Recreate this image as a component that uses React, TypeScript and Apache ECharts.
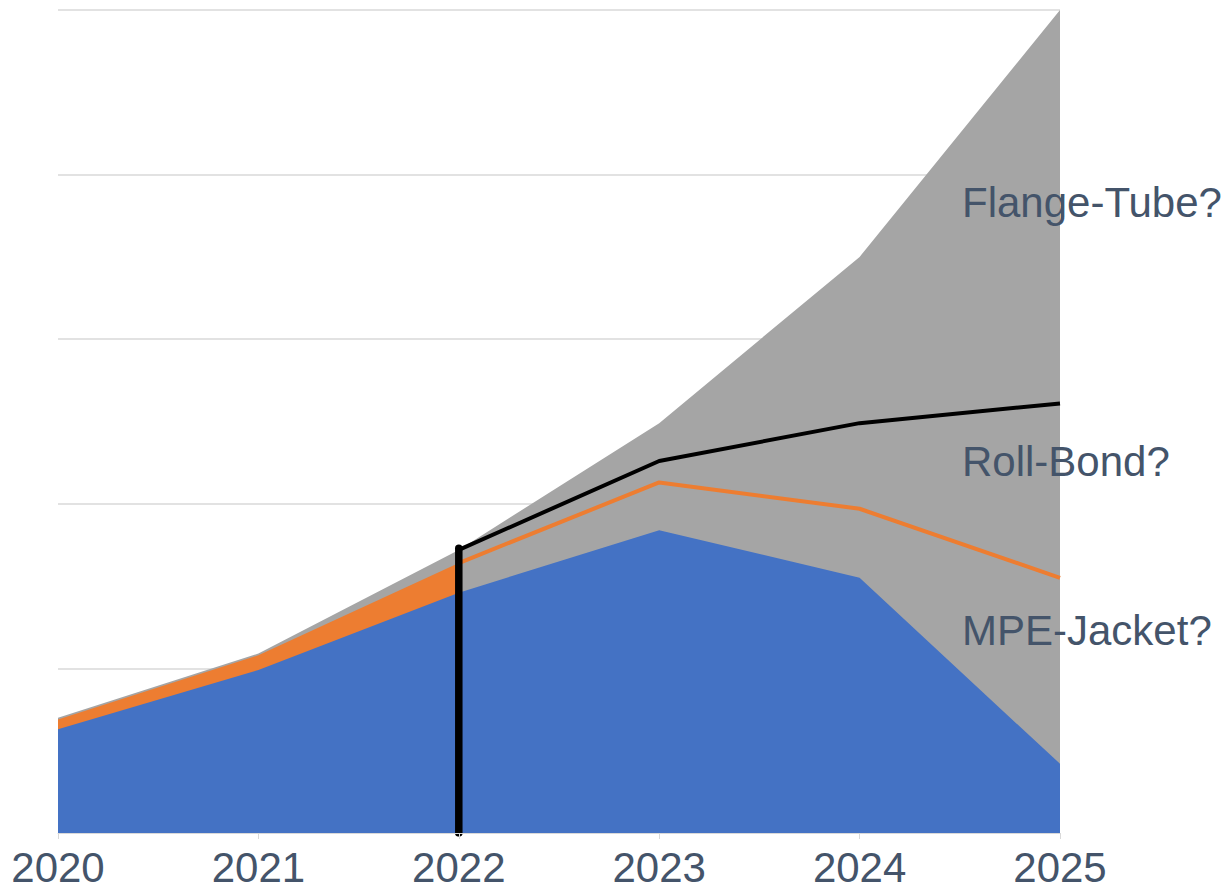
import React, { useEffect, useRef } from "react";
import * as echarts from "echarts";

const years = ["2020", "2021", "2022", "2023", "2024", "2025"];
// Levels (top edges), in gridline units (0..5)
const totalPotential = [0.7, 1.09, 1.72, 2.49, 3.5, 5.0]; // grey area top
const rollBondActualTop = [0.69, 1.08, 1.64, null, null, null]; // orange area top
const mpeJacket = [0.63, 0.99, 1.46, 1.84, 1.55, 0.42]; // blue area top
const rollBondForecast = [null, null, 1.64, 2.13, 1.97, 1.55]; // orange line
const flangeTubeForecast = [null, null, 1.72, 2.26, 2.49, 2.61]; // black line
const todayMarker = [
  ["2022", 0],
  ["2022", 1.73],
];
const labels = [
  { text: "Flange-Tube?", y: 205 },
  { text: "Roll-Bond?", y: 464 },
  { text: "MPE-Jacket?", y: 633 },
];

const FONT = "'Liberation Sans', Arial, sans-serif";
const TEXT = "#44546A";

export default function App() {
  const ref = useRef<HTMLDivElement>(null);
  useEffect(() => {
    if (!ref.current) return;
    const chart = echarts.init(ref.current, undefined, { renderer: "svg" });
    const area = (name: string, data: any[], color: string) => ({
      name,
      type: "line",
      data,
      showSymbol: false,
      symbol: "none",
      lineStyle: { width: 0 },
      areaStyle: { color, opacity: 1 },
      silent: true,
    });
    chart.setOption({
      animation: false,
      grid: { left: 58, right: 167, top: 10, bottom: 59, containLabel: false },
      xAxis: {
        type: "category",
        data: years,
        boundaryGap: false,
        axisLine: { show: true, lineStyle: { color: "#d9d9d9", width: 1 } },
        axisTick: { show: true, length: 6, lineStyle: { color: "#d9d9d9" } },
        axisLabel: {
          fontSize: 42,
          fontFamily: FONT,
          color: TEXT,
          margin: 13,
        },
        splitLine: { show: false },
        z: 10,
      },
      yAxis: {
        type: "value",
        min: 0,
        max: 5,
        interval: 1,
        axisLabel: { show: false },
        axisLine: { show: false },
        axisTick: { show: false },
        splitLine: { show: true, lineStyle: { color: "#d9d9d9", width: 1.5 } },
      },
      series: [
        area("Flange-Tube?", totalPotential, "#a5a5a5"),
        area("Roll-Bond", rollBondActualTop, "#ed7d31"),
        area("MPE-Jacket?", mpeJacket, "#4472c4"),
        {
          name: "Roll-Bond forecast",
          type: "line",
          data: rollBondForecast,
          showSymbol: false,
          symbol: "none",
          lineStyle: { color: "#ed7d31", width: 4 },
        },
        {
          name: "Flange-Tube forecast",
          type: "line",
          data: flangeTubeForecast,
          showSymbol: false,
          symbol: "none",
          lineStyle: { color: "#000000", width: 4 },
        },
        {
          name: "Today",
          type: "line",
          data: todayMarker,
          showSymbol: false,
          symbol: "none",
          lineStyle: { color: "#000000", width: 7.5, cap: "round" },
        },
      ],
      graphic: labels.map((l) => ({
        type: "text",
        left: 962,
        top: l.y - 24,
        style: {
          text: l.text,
          fontSize: 42,
          fontFamily: FONT,
          fill: TEXT,
        },
        z: 100,
      })),
    });
    return () => chart.dispose();
  }, []);
  return (
    <div
      ref={ref}
      style={{ position: "absolute", left: 0, top: 0, width: 1227, height: 892 }}
    />
  );
}
